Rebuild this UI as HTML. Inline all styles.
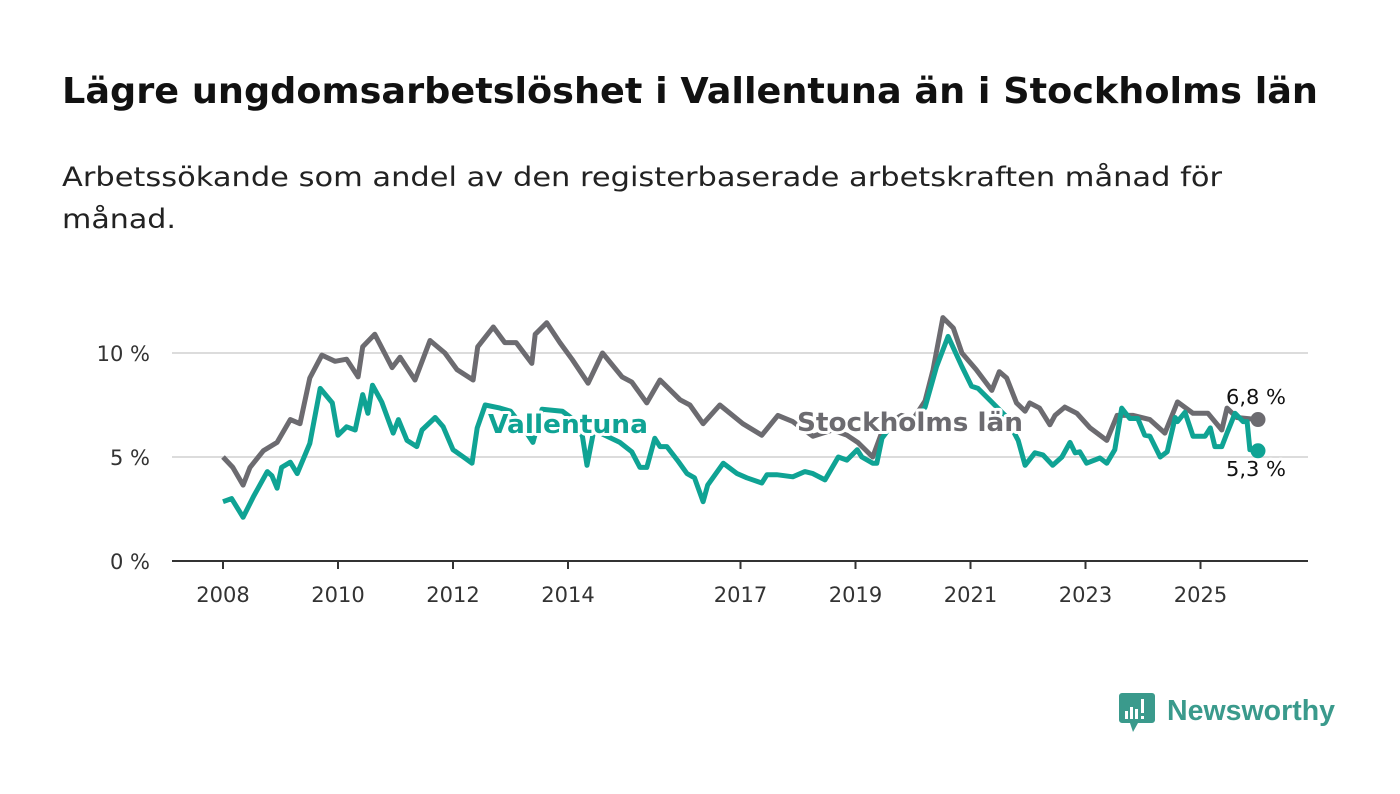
<!DOCTYPE html>
<html><head><meta charset="utf-8"><style>
html,body{margin:0;padding:0;background:#fff;width:1400px;height:794px;overflow:hidden}
svg{display:block;font-family:"DejaVu Sans","Liberation Sans",sans-serif}
</style></head><body>
<svg id="chart" width="1400" height="794" viewBox="0 0 1400 794">
<text x="62" y="103" font-size="36" font-weight="bold" fill="#111" textLength="1256" lengthAdjust="spacingAndGlyphs">Lägre ungdomsarbetslöshet i Vallentuna än i Stockholms län</text>
<text x="62" y="186" font-size="27" fill="#222" textLength="1160" lengthAdjust="spacingAndGlyphs">Arbetssökande som andel av den registerbaserade arbetskraften månad för</text>
<text x="62" y="228" font-size="27" fill="#222" textLength="114" lengthAdjust="spacingAndGlyphs">månad.</text>
<g id="grid"></g><g id="xaxis"></g><g id="lines"></g><g id="labels"></g>
<g>
<path d="M1122 693 h30 a3 3 0 0 1 3 3 v24 a3 3 0 0 1 -3 3 h-14 l-5 9 l-3 -9 h-8 a3 3 0 0 1 -3 -3 v-24 a3 3 0 0 1 3 -3z" fill="#3a9a8c"/>
<rect x="1125" y="711" width="3" height="8" fill="#fff"/><rect x="1130" y="707" width="3" height="12" fill="#fff"/><rect x="1135" y="709" width="3" height="10" fill="#fff"/><rect x="1141" y="699" width="3" height="14" fill="#fff"/><rect x="1141" y="716" width="3" height="3" fill="#fff"/>
<text x="1167" y="720" font-size="29" font-weight="bold" fill="#3a9a8c" textLength="168" lengthAdjust="spacingAndGlyphs" font-family="Liberation Sans, sans-serif">Newsworthy</text>
</g>
</svg>
<script>
const yTicks = [0, 5, 10];
const yTickLabels = ["0 %", "5 %", "10 %"];
const xTicks = [2008, 2010, 2012, 2014, 2017, 2019, 2021, 2023, 2025];
const stoT = [2008.0,2008.17,2008.35,2008.47,2008.7,2008.94,2009.17,2009.34,2009.51,2009.72,2009.95,2010.15,2010.35,2010.43,2010.64,2010.94,2011.08,2011.34,2011.6,2011.86,2012.07,2012.35,2012.43,2012.7,2012.9,2013.1,2013.37,2013.43,2013.63,2013.86,2014.07,2014.35,2014.6,2014.94,2015.11,2015.37,2015.6,2015.95,2016.12,2016.35,2016.64,2017.04,2017.37,2017.65,2017.91,2018.26,2018.6,2018.85,2019.04,2019.3,2019.5,2019.8,2020.0,2020.21,2020.35,2020.52,2020.7,2020.85,2021.1,2021.37,2021.5,2021.63,2021.8,2021.95,2022.03,2022.2,2022.38,2022.47,2022.64,2022.85,2023.08,2023.37,2023.55,2023.83,2024.12,2024.38,2024.6,2024.87,2025.13,2025.37,2025.46,2025.63,2026.0];
const stoV = [5.0,4.5,3.65,4.5,5.3,5.7,6.8,6.6,8.8,9.9,9.6,9.7,8.85,10.3,10.9,9.3,9.8,8.7,10.6,10.0,9.2,8.7,10.3,11.25,10.5,10.5,9.5,10.9,11.45,10.5,9.7,8.55,10.0,8.85,8.6,7.6,8.7,7.75,7.5,6.6,7.5,6.6,6.05,7.0,6.7,6.0,6.3,6.05,5.7,5.0,6.5,7.0,6.8,7.7,9.2,11.7,11.2,10.0,9.2,8.2,9.1,8.8,7.6,7.2,7.6,7.35,6.55,7.0,7.4,7.1,6.4,5.8,7.0,7.0,6.8,6.15,7.65,7.1,7.1,6.3,7.35,6.9,6.8];
const valT = [2008.0,2008.15,2008.35,2008.53,2008.77,2008.85,2008.94,2009.02,2009.17,2009.29,2009.51,2009.69,2009.9,2010.0,2010.15,2010.3,2010.43,2010.52,2010.6,2010.76,2010.96,2011.05,2011.2,2011.37,2011.46,2011.69,2011.83,2012.0,2012.18,2012.33,2012.42,2012.56,2012.82,2013.0,2013.2,2013.39,2013.55,2013.9,2014.1,2014.25,2014.33,2014.45,2014.9,2015.11,2015.25,2015.37,2015.51,2015.6,2015.72,2015.9,2016.07,2016.2,2016.35,2016.43,2016.7,2016.94,2017.11,2017.37,2017.46,2017.63,2017.91,2018.12,2018.26,2018.47,2018.7,2018.85,2019.03,2019.11,2019.3,2019.37,2019.46,2019.7,2020.0,2020.21,2020.41,2020.61,2020.85,2021.02,2021.13,2021.33,2021.6,2021.83,2021.95,2022.12,2022.26,2022.43,2022.59,2022.73,2022.82,2022.9,2023.02,2023.25,2023.37,2023.51,2023.63,2023.77,2023.91,2024.03,2024.12,2024.3,2024.42,2024.56,2024.6,2024.73,2024.87,2025.08,2025.17,2025.25,2025.37,2025.46,2025.6,2025.74,2025.81,2025.86,2026.0];
const valV = [2.85,3.0,2.1,3.1,4.3,4.1,3.5,4.5,4.75,4.2,5.65,8.3,7.6,6.05,6.45,6.3,8.0,7.1,8.45,7.65,6.15,6.8,5.8,5.5,6.3,6.9,6.45,5.35,5.0,4.7,6.4,7.5,7.35,7.2,6.5,5.7,7.3,7.2,6.8,6.0,4.6,6.3,5.7,5.25,4.5,4.5,5.9,5.5,5.5,4.85,4.2,4.0,2.85,3.65,4.7,4.2,4.0,3.75,4.15,4.15,4.05,4.3,4.2,3.9,5.0,4.85,5.35,5.0,4.7,4.7,5.9,6.8,6.6,7.4,9.35,10.8,9.35,8.4,8.3,7.75,7.0,5.8,4.6,5.2,5.1,4.6,5.0,5.7,5.2,5.25,4.7,4.95,4.7,5.35,7.35,6.85,6.85,6.05,6.0,5.0,5.25,6.9,6.7,7.15,6.0,6.0,6.4,5.5,5.5,6.15,7.1,6.7,6.7,5.35,5.3];

const NS = "http://www.w3.org/2000/svg";
const X = t => 223 + (t - 2008) * 57.5;
const Y = v => 561 - v * 20.8;
function mk(tag, attrs, parent) {
  const e = document.createElementNS(NS, tag);
  for (const k in attrs) e.setAttribute(k, attrs[k]);
  parent.appendChild(e);
  return e;
}
const grid = document.getElementById('grid');
yTicks.forEach((v, i) => {
  if (v > 0) {
    const l = mk('line', {x1: 172, x2: 1308, y1: Y(v), y2: Y(v), stroke: '#dcdcdc', 'stroke-width': 2}, grid);
    
    
  }
  const t = mk('text', {x: 150, y: Y(v) + 8, 'text-anchor': 'end', 'font-size': 21, fill: '#333'}, grid);
  t.textContent = yTickLabels[i];
  
  
});
const xa = document.getElementById('xaxis');
const ax = mk('line', {x1: 172, x2: 1308, y1: 561, y2: 561, stroke: '#333', 'stroke-width': 2}, xa);


xTicks.forEach(yr => {
  const tk = mk('line', {x1: X(yr), x2: X(yr), y1: 561, y2: 569, stroke: '#333', 'stroke-width': 2}, xa);
  
  
  const t = mk('text', {x: X(yr), y: 602, 'text-anchor': 'middle', 'font-size': 21, fill: '#333'}, xa);
  t.textContent = yr;
  
  
});
const lines = document.getElementById('lines');
function series(T, V, color, name) {
  const d = T.map((t, i) => (i ? 'L' : 'M') + X(t).toFixed(1) + ' ' + Y(V[i]).toFixed(1)).join(' ');
  const p = mk('path', {d: d, fill: 'none', stroke: color, 'stroke-width': 5, 'stroke-linejoin': 'round'}, lines);
  
  
  const c = mk('circle', {cx: X(T[T.length-1]), cy: Y(V[V.length-1]), r: 7.5, fill: color}, lines);
  
  
}
series(stoT, stoV, '#6c6b70', 'stockholm');
series(valT, valV, '#0fa394', 'vallentuna');
const lb = document.getElementById('labels');
function label(x, y, txt, color, size, weight, name, len) {
  const t = mk('text', {x: x, y: y, 'font-size': size, 'font-weight': weight, fill: color, stroke: '#fff', 'stroke-width': 6, 'paint-order': 'stroke', 'stroke-linejoin': 'round'}, lb);
  if (len) { t.setAttribute('textLength', len); t.setAttribute('lengthAdjust', 'spacingAndGlyphs'); }
  t.textContent = txt;
  
  
}
label(488, 433, 'Vallentuna', '#0fa394', 26, 'bold', 'vallentuna-label', 160);
label(797, 431, 'Stockholms län', '#6c6b70', 26, 'bold', 'stockholm-label', 226);
label(1226, 404, '6,8 %', '#111', 20, 'normal', 'stockholm-end-value', 60);
label(1226, 476, '5,3 %', '#111', 20, 'normal', 'vallentuna-end-value', 60);
</script>
</body></html>
